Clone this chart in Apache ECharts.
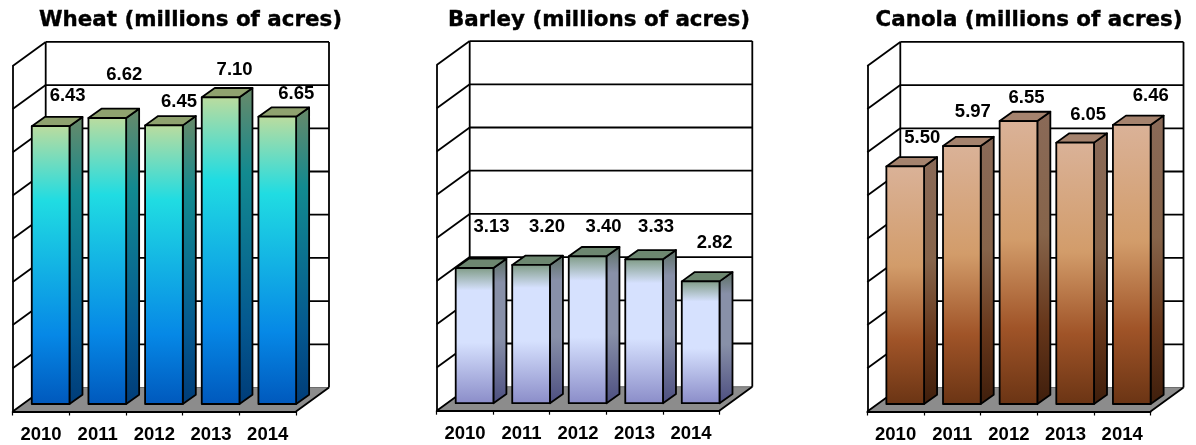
<!DOCTYPE html>
<html><head><meta charset="utf-8">
<style>html,body{margin:0;padding:0;background:#fff}#c{width:1196px;height:445px}</style>
<script src="https://cdn.jsdelivr.net/npm/echarts@6/dist/echarts.min.js"></script>
</head><body><div id="c"></div>
<script>
const categories = ['2010','2011','2012','2013','2014'];
const wheatValues = [6.43,6.62,6.45,7.10,6.65];
const barleyValues = [3.13,3.20,3.40,3.33,2.82];
const canolaValues = [5.50,5.97,6.55,6.05,6.46];
const wallTicks = [0,1,2,3,4,5,6,7,8];

const wheatLabelShift = [[17,-30],[17,-43],[15,-23],[14,-27],[19,-23]];
const barleyLabelShift = [[17,-41],[16,-38],[16,-29],[12,-32],[14,-38]];
const canolaLabelShift = [[17,-28],[11,-34],[8,-23],[13,-28],[19,-29]];

const DEPTH = {x:33,y:24,barX:13,barY:9.3,barGapX:9.6,barGapY:7.5,barW:37.7};
const FONT = 'Liberation Sans, Arial, sans-serif';
const vg = (stops)=>({type:'linear',x:0,y:0,x2:0,y2:1,colorStops:stops.map(s=>({offset:s[0],color:s[1]}))});

const panels = [
 {name:'Wheat (millions of acres)',values:wheatValues,shift:wheatLabelShift,left:12.7,width:283.3,bottom:411.5,titleX:185.5,
  front:[[0,'#bcdc9e'],[0.27,'#20dce2'],[0.75,'#0688e6'],[1,'#0058bc']],
  side:[[0,'#6a8a68'],[0.27,'#128a90'],[0.75,'#045890'],[1,'#003c78']],top:'#8fa26f'},
 {name:'Barley (millions of acres)',values:barleyValues,shift:barleyLabelShift,left:436.7,width:282.6,bottom:410.7,titleX:594,
  front:[[0,'#7e9a84'],[0.17,'#d6e1fe'],[0.55,'#d6e1fe'],[1,'#8a8cc8']],
  side:[[0,'#5a6e60'],[0.17,'#8890a8'],[0.55,'#8890a8'],[1,'#4c4e80']],top:'#6d8770'},
 {name:'Canola (millions of acres)',values:canolaValues,shift:canolaLabelShift,left:867.3,width:283.2,bottom:411.5,titleX:1024,
  front:[[0,'#dab298'],[0.42,'#d29c6a'],[0.73,'#a05428'],[1,'#6a3414']],
  side:[[0,'#8a6a58'],[0.42,'#86644a'],[0.73,'#66361a'],[1,'#3e1e0c']],top:'#a5836e'}
];

const UNIT = 43.2, MAXV = 8, LW = 1.8;
const title=[],grid=[],xAxis=[],yAxis=[],series=[];
panels.forEach((p,i)=>{
  title.push({text:p.name,left:p.titleX,top:5,textAlign:'center',
    textStyle:{fontFamily:'DejaVu Sans',fontWeight:'bold',fontSize:21.4,color:'#000',textBorderColor:'#000',textBorderWidth:0.4}});
  grid.push({left:p.left,width:p.width,top:p.bottom-UNIT*MAXV,height:UNIT*MAXV});
  xAxis.push({type:'category',gridIndex:i,data:categories,z:5,
    axisLine:{show:true,lineStyle:{color:'#000',width:LW}},
    axisTick:{show:true,alignWithLabel:false,length:4,lineStyle:{color:'#000',width:1.2}},
    axisLabel:{margin:13.5,fontFamily:FONT,fontWeight:'bold',fontSize:18.5,color:'#000',interval:0}});
  yAxis.push({type:'value',gridIndex:i,min:0,max:MAXV,interval:1,z:5,
    axisLine:{show:true,lineStyle:{color:'#000',width:LW}},axisTick:{show:false},axisLabel:{show:false},splitLine:{show:false}});
  series.push({type:'custom',xAxisIndex:i,yAxisIndex:i,z:1,silent:true,animation:false,
    data:wallTicks.map(v=>[0,v]),encode:{x:0,y:1},clip:false,
    renderItem:(params,api)=>{
      const v=api.value(1);
      const band=api.size([1,0])[0];
      const c=api.coord([0,v]);
      const xl=c[0]-band/2, xr=xl+band*categories.length, y=c[1];
      const dx=DEPTH.x, dy=DEPTH.y;
      const ls={stroke:'#000',lineWidth:LW,fill:null};
      const kids=[];
      if(v===0){
        kids.push({type:'polygon',shape:{points:[[xl,y],[xr,y],[xr+dx,y-dy],[xl+dx,y-dy]]},style:{fill:'#8c8c8c',stroke:'#555',lineWidth:0.8}});
        kids.push({type:'line',shape:{x1:xr,y1:y,x2:xr+dx,y2:y-dy},style:ls});
      } else {
        kids.push({type:'line',shape:{x1:xl+dx,y1:y-dy,x2:xr+dx,y2:y-dy},style:ls});
      }
      kids.push({type:'line',shape:{x1:xl,y1:y,x2:xl+dx,y2:y-dy},style:ls});
      if(v===MAXV){
        const b=api.coord([0,0])[1];
        kids.push({type:'line',shape:{x1:xl+dx,y1:y-dy,x2:xl+dx,y2:b-dy},style:ls});
        kids.push({type:'line',shape:{x1:xr+dx,y1:y-dy,x2:xr+dx,y2:b-dy},style:ls});
      }
      return {type:'group',children:kids};
    }});
  series.push({type:'custom',xAxisIndex:i,yAxisIndex:i,z:3,silent:true,animation:false,clip:false,
    data:p.values.map((v,k)=>[k,v]),encode:{x:0,y:1},
    renderItem:(params,api)=>{
      const k=api.value(0), v=api.value(1);
      const t=api.coord([k,v]), b=api.coord([k,0]);
      const x0=t[0]-DEPTH.barW/2+DEPTH.barGapX, x1=x0+DEPTH.barW;
      const yt=t[1]-DEPTH.barGapY, yb=b[1]-DEPTH.barGapY;
      const ddx=DEPTH.barX, ddy=DEPTH.barY;
      const line={stroke:'#000',lineWidth:LW,lineJoin:'round'};
      const sh=p.shift[k];
      return {type:'group',children:[
        {type:'polygon',shape:{points:[[x1,yt],[x1+ddx,yt-ddy],[x1+ddx,yb-ddy],[x1,yb]]},style:Object.assign({fill:vg(p.side)},line)},
        {type:'polygon',shape:{points:[[x0,yt],[x0+ddx,yt-ddy],[x1+ddx,yt-ddy],[x1,yt]]},style:Object.assign({fill:p.top},line)},
        {type:'rect',shape:{x:x0,y:yt,width:DEPTH.barW,height:yb-yt},style:Object.assign({fill:vg(p.front)},line)},
        {type:'text',z2:20,style:{text:api.value(1).toFixed(2),x:(x0+x1)/2+sh[0],y:yt+sh[1],align:'center',verticalAlign:'middle',
          font:'bold 18.5px '+FONT,fill:'#000'}}
      ]};
    }});
});
const chart=echarts.init(document.getElementById('c'),null,{renderer:'canvas',width:1196,height:445});
chart.setOption({animation:false,backgroundColor:'#fff',title,grid,xAxis,yAxis,series});
</script></body></html>
